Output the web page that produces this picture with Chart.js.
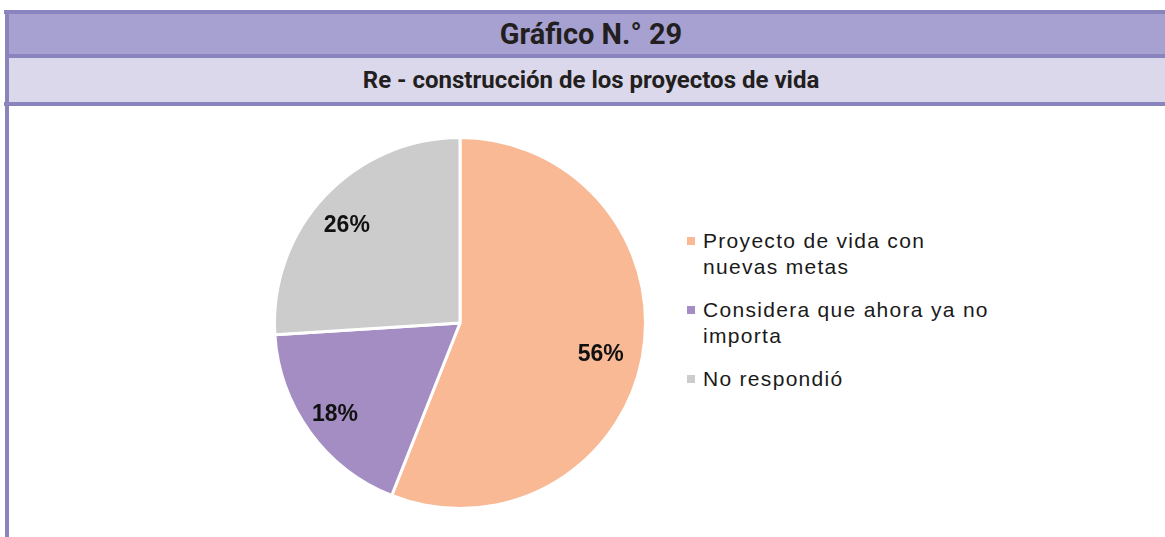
<!DOCTYPE html>
<html>
<head>
<meta charset="utf-8">
<script src="https://cdn.jsdelivr.net/npm/chart.js@4.4.1/dist/chart.umd.min.js"></script>
<style>
  body { margin: 0; background: #fff; width: 1165px; height: 537px; overflow: hidden; position: relative; }
  .bar { position: absolute; background: #8984be; }
  .band { position: absolute; left: 9px; right: 0; display: flex; align-items: center; justify-content: center; font-family: Roboto, sans-serif; color: #231f20; }
  #title { top: 14px; height: 40px; background: #a6a1d1; font-size: 29px; font-weight: 700; padding-left: 8px; }
  #subtitle { top: 58px; height: 44px; background: #dbd8ec; font-size: 24px; font-weight: 700; padding-left: 8px; }
  #chartBox { position: absolute; left: 260px; top: 123px; width: 400px; height: 400px; }
  #legend { position: absolute; left: 687px; top: 228px; font-family: "Liberation Sans", Arial, sans-serif; font-size: 21px; line-height: 26px; letter-spacing: 1.3px; color: #1a1a1a; }
  .item { position: relative; padding-left: 16px; margin-bottom: 17px; }
  .item span.box { position: absolute; left: 0; top: 9px; width: 8px; height: 8px; }
</style>
</head>
<body>
<div class="bar" style="left:4px;right:0;top:10px;height:4px"></div>
<div class="band" id="title"></div>
<div class="bar" style="left:9px;right:0;top:54px;height:4px"></div>
<div class="band" id="subtitle"></div>
<div class="bar" style="left:4px;right:0;top:102px;height:4px"></div>
<div class="bar" style="left:5px;width:4px;top:10px;bottom:0"></div>

<div id="chartBox"><canvas id="pieChart"></canvas></div>
<div id="legend"></div>

<script>
const chartTitle = 'Gráfico N.° 29';
const chartSubtitle = 'Re - construcción de los proyectos de vida';
const categories = [
    ['Proyecto de vida con', 'nuevas metas'],
    ['Considera que ahora ya no', 'importa'],
    ['No respondió']
];
const values = [56, 18, 26];
const colors = ['#f9b995', '#a48dc3', '#cccccc'];

document.getElementById('title').textContent = chartTitle;
document.getElementById('subtitle').textContent = chartSubtitle;

// percent labels inside the slices
const sliceLabels = {
    id: 'sliceLabels',
    afterDatasetsDraw(chart) {
        const ctx = chart.ctx;
        const meta = chart.getDatasetMeta(0);
        ctx.save();
        ctx.font = 'bold 23px "Liberation Sans", Arial, sans-serif';
        ctx.fillStyle = '#111';
        ctx.textAlign = 'center';
        ctx.textBaseline = 'middle';
        meta.data.forEach(function (arc, i) {
            const p = arc.getProps(['x', 'y', 'startAngle', 'endAngle', 'outerRadius'], true);
            const mid = (p.startAngle + p.endAngle) / 2;
            const r = p.outerRadius * 0.8;
            ctx.fillText(values[i] + '%', p.x + Math.cos(mid) * r - 5, p.y + Math.sin(mid) * r + 4);
        });
        ctx.restore();
    }
};

const pieChart = new Chart(document.getElementById('pieChart').getContext('2d'), {
    type: 'pie',
    data: {
        labels: categories,
        datasets: [{
            data: values,
            backgroundColor: colors,
            borderColor: '#fff',
            borderWidth: 3
        }]
    },
    options: {
        responsive: true,
        maintainAspectRatio: false,
        animation: false,
        layout: { padding: 13 },
        plugins: {
            legend: { display: false },
            tooltip: { enabled: false }
        }
    },
    plugins: [sliceLabels]
});

// legend built from the chart's own labels
const legendEl = document.getElementById('legend');
pieChart.data.labels.forEach(function (lines, i) {
    const item = document.createElement('div');
    item.className = 'item';
    const box = document.createElement('span');
    box.className = 'box';
    box.style.background = colors[i];
    item.appendChild(box);
    const txt = document.createElement('div');
    txt.innerHTML = lines.join('<br>');
    item.appendChild(txt);
    legendEl.appendChild(item);
});
</script>
</body>
</html>
